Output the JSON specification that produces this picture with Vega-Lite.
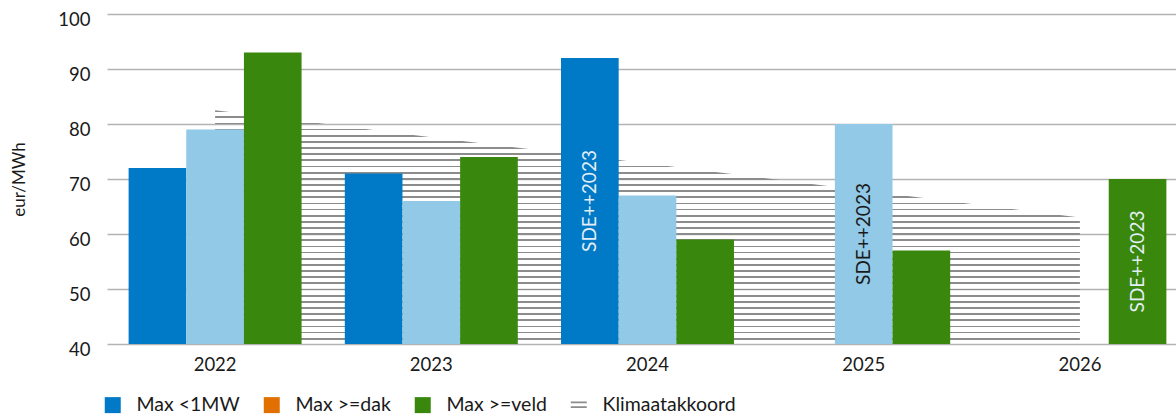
{
  "$schema": "https://vega.github.io/schema/vega-lite/v6.json",
  "width": 1069,
  "height": 330,
  "autosize": {"type": "none"},
  "padding": {"left": 107, "top": 14, "right": 0, "bottom": 70},
  "background": "white",
  "config": {"view": {"stroke": null}, "font": "Lato"},
  "datasets": {
    "bars": [
      {"year": "2022", "series": "Max <1MW", "value": 72, "note": null},
      {"year": "2022", "series": "Max >=dak", "value": 79, "note": null},
      {"year": "2022", "series": "Max >=veld", "value": 93, "note": null},
      {"year": "2023", "series": "Max <1MW", "value": 71, "note": null},
      {"year": "2023", "series": "Max >=dak", "value": 66, "note": null},
      {"year": "2023", "series": "Max >=veld", "value": 74, "note": null},
      {"year": "2024", "series": "Max <1MW", "value": 92, "note": "SDE++2023"},
      {"year": "2024", "series": "Max >=dak", "value": 67, "note": null},
      {"year": "2024", "series": "Max >=veld", "value": 59, "note": null},
      {"year": "2025", "series": "Max >=dak", "value": 80, "note": "SDE++2023"},
      {"year": "2025", "series": "Max >=veld", "value": 57, "note": null},
      {"year": "2026", "series": "Max >=veld", "value": 70, "note": "SDE++2023"}
    ],
    "klimaat": [
      {"year": "2022", "value": 82.5},
      {"year": "2023", "value": 77.6},
      {"year": "2024", "value": 72.8},
      {"year": "2025", "value": 67.9},
      {"year": "2026", "value": 63.0}
    ]
  },
  "encoding": {
    "x": {
      "field": "year",
      "type": "nominal",
      "scale": {"domain": ["2022", "2023", "2024", "2025", "2026"], "range": [0, 1081], "paddingInner": 0.2, "paddingOuter": 0.1},
      "axis": {"title": null, "domain": false, "ticks": false, "grid": false, "labelAngle": 0, "labelFontSize": 18.5, "labelColor": "#1a1a1a", "labelPadding": 11}
    }
  },
  "layer": [
    {
      "data": {"name": "klimaat"},
      "mark": {
        "type": "area",
        "fill": {
          "gradient": "linear", "x1": 0, "y1": 0, "x2": 0, "y2": 1,
          "stops": [
            {"offset": 0, "color": "#8c8c8c"}, {"offset": 0.0075, "color": "#8c8c8c"}, {"offset": 0.0075, "color": "rgba(255,255,255,0)"}, {"offset": 0.0263, "color": "rgba(255,255,255,0)"},
            {"offset": 0.0263, "color": "#8c8c8c"}, {"offset": 0.0338, "color": "#8c8c8c"}, {"offset": 0.0338, "color": "rgba(255,255,255,0)"}, {"offset": 0.0526, "color": "rgba(255,255,255,0)"},
            {"offset": 0.0526, "color": "#8c8c8c"}, {"offset": 0.0601, "color": "#8c8c8c"}, {"offset": 0.0601, "color": "rgba(255,255,255,0)"}, {"offset": 0.0789, "color": "rgba(255,255,255,0)"},
            {"offset": 0.0789, "color": "#8c8c8c"}, {"offset": 0.0864, "color": "#8c8c8c"}, {"offset": 0.0864, "color": "rgba(255,255,255,0)"}, {"offset": 0.1053, "color": "rgba(255,255,255,0)"},
            {"offset": 0.1053, "color": "#8c8c8c"}, {"offset": 0.1128, "color": "#8c8c8c"}, {"offset": 0.1128, "color": "rgba(255,255,255,0)"}, {"offset": 0.1316, "color": "rgba(255,255,255,0)"},
            {"offset": 0.1316, "color": "#8c8c8c"}, {"offset": 0.1391, "color": "#8c8c8c"}, {"offset": 0.1391, "color": "rgba(255,255,255,0)"}, {"offset": 0.1579, "color": "rgba(255,255,255,0)"},
            {"offset": 0.1579, "color": "#8c8c8c"}, {"offset": 0.1654, "color": "#8c8c8c"}, {"offset": 0.1654, "color": "rgba(255,255,255,0)"}, {"offset": 0.1842, "color": "rgba(255,255,255,0)"},
            {"offset": 0.1842, "color": "#8c8c8c"}, {"offset": 0.1917, "color": "#8c8c8c"}, {"offset": 0.1917, "color": "rgba(255,255,255,0)"}, {"offset": 0.2105, "color": "rgba(255,255,255,0)"},
            {"offset": 0.2105, "color": "#8c8c8c"}, {"offset": 0.2180, "color": "#8c8c8c"}, {"offset": 0.2180, "color": "rgba(255,255,255,0)"}, {"offset": 0.2368, "color": "rgba(255,255,255,0)"},
            {"offset": 0.2368, "color": "#8c8c8c"}, {"offset": 0.2443, "color": "#8c8c8c"}, {"offset": 0.2443, "color": "rgba(255,255,255,0)"}, {"offset": 0.2632, "color": "rgba(255,255,255,0)"},
            {"offset": 0.2632, "color": "#8c8c8c"}, {"offset": 0.2707, "color": "#8c8c8c"}, {"offset": 0.2707, "color": "rgba(255,255,255,0)"}, {"offset": 0.2895, "color": "rgba(255,255,255,0)"},
            {"offset": 0.2895, "color": "#8c8c8c"}, {"offset": 0.2970, "color": "#8c8c8c"}, {"offset": 0.2970, "color": "rgba(255,255,255,0)"}, {"offset": 0.3158, "color": "rgba(255,255,255,0)"},
            {"offset": 0.3158, "color": "#8c8c8c"}, {"offset": 0.3233, "color": "#8c8c8c"}, {"offset": 0.3233, "color": "rgba(255,255,255,0)"}, {"offset": 0.3421, "color": "rgba(255,255,255,0)"},
            {"offset": 0.3421, "color": "#8c8c8c"}, {"offset": 0.3496, "color": "#8c8c8c"}, {"offset": 0.3496, "color": "rgba(255,255,255,0)"}, {"offset": 0.3684, "color": "rgba(255,255,255,0)"},
            {"offset": 0.3684, "color": "#8c8c8c"}, {"offset": 0.3759, "color": "#8c8c8c"}, {"offset": 0.3759, "color": "rgba(255,255,255,0)"}, {"offset": 0.3947, "color": "rgba(255,255,255,0)"},
            {"offset": 0.3947, "color": "#8c8c8c"}, {"offset": 0.4022, "color": "#8c8c8c"}, {"offset": 0.4022, "color": "rgba(255,255,255,0)"}, {"offset": 0.4211, "color": "rgba(255,255,255,0)"},
            {"offset": 0.4211, "color": "#8c8c8c"}, {"offset": 0.4286, "color": "#8c8c8c"}, {"offset": 0.4286, "color": "rgba(255,255,255,0)"}, {"offset": 0.4474, "color": "rgba(255,255,255,0)"},
            {"offset": 0.4474, "color": "#8c8c8c"}, {"offset": 0.4549, "color": "#8c8c8c"}, {"offset": 0.4549, "color": "rgba(255,255,255,0)"}, {"offset": 0.4737, "color": "rgba(255,255,255,0)"},
            {"offset": 0.4737, "color": "#8c8c8c"}, {"offset": 0.4812, "color": "#8c8c8c"}, {"offset": 0.4812, "color": "rgba(255,255,255,0)"}, {"offset": 0.5000, "color": "rgba(255,255,255,0)"},
            {"offset": 0.5000, "color": "#8c8c8c"}, {"offset": 0.5075, "color": "#8c8c8c"}, {"offset": 0.5075, "color": "rgba(255,255,255,0)"}, {"offset": 0.5263, "color": "rgba(255,255,255,0)"},
            {"offset": 0.5263, "color": "#8c8c8c"}, {"offset": 0.5338, "color": "#8c8c8c"}, {"offset": 0.5338, "color": "rgba(255,255,255,0)"}, {"offset": 0.5526, "color": "rgba(255,255,255,0)"},
            {"offset": 0.5526, "color": "#8c8c8c"}, {"offset": 0.5601, "color": "#8c8c8c"}, {"offset": 0.5601, "color": "rgba(255,255,255,0)"}, {"offset": 0.5789, "color": "rgba(255,255,255,0)"},
            {"offset": 0.5789, "color": "#8c8c8c"}, {"offset": 0.5864, "color": "#8c8c8c"}, {"offset": 0.5864, "color": "rgba(255,255,255,0)"}, {"offset": 0.6053, "color": "rgba(255,255,255,0)"},
            {"offset": 0.6053, "color": "#8c8c8c"}, {"offset": 0.6128, "color": "#8c8c8c"}, {"offset": 0.6128, "color": "rgba(255,255,255,0)"}, {"offset": 0.6316, "color": "rgba(255,255,255,0)"},
            {"offset": 0.6316, "color": "#8c8c8c"}, {"offset": 0.6391, "color": "#8c8c8c"}, {"offset": 0.6391, "color": "rgba(255,255,255,0)"}, {"offset": 0.6579, "color": "rgba(255,255,255,0)"},
            {"offset": 0.6579, "color": "#8c8c8c"}, {"offset": 0.6654, "color": "#8c8c8c"}, {"offset": 0.6654, "color": "rgba(255,255,255,0)"}, {"offset": 0.6842, "color": "rgba(255,255,255,0)"},
            {"offset": 0.6842, "color": "#8c8c8c"}, {"offset": 0.6917, "color": "#8c8c8c"}, {"offset": 0.6917, "color": "rgba(255,255,255,0)"}, {"offset": 0.7105, "color": "rgba(255,255,255,0)"},
            {"offset": 0.7105, "color": "#8c8c8c"}, {"offset": 0.7180, "color": "#8c8c8c"}, {"offset": 0.7180, "color": "rgba(255,255,255,0)"}, {"offset": 0.7368, "color": "rgba(255,255,255,0)"},
            {"offset": 0.7368, "color": "#8c8c8c"}, {"offset": 0.7443, "color": "#8c8c8c"}, {"offset": 0.7443, "color": "rgba(255,255,255,0)"}, {"offset": 0.7632, "color": "rgba(255,255,255,0)"},
            {"offset": 0.7632, "color": "#8c8c8c"}, {"offset": 0.7707, "color": "#8c8c8c"}, {"offset": 0.7707, "color": "rgba(255,255,255,0)"}, {"offset": 0.7895, "color": "rgba(255,255,255,0)"},
            {"offset": 0.7895, "color": "#8c8c8c"}, {"offset": 0.7970, "color": "#8c8c8c"}, {"offset": 0.7970, "color": "rgba(255,255,255,0)"}, {"offset": 0.8158, "color": "rgba(255,255,255,0)"},
            {"offset": 0.8158, "color": "#8c8c8c"}, {"offset": 0.8233, "color": "#8c8c8c"}, {"offset": 0.8233, "color": "rgba(255,255,255,0)"}, {"offset": 0.8421, "color": "rgba(255,255,255,0)"},
            {"offset": 0.8421, "color": "#8c8c8c"}, {"offset": 0.8496, "color": "#8c8c8c"}, {"offset": 0.8496, "color": "rgba(255,255,255,0)"}, {"offset": 0.8684, "color": "rgba(255,255,255,0)"},
            {"offset": 0.8684, "color": "#8c8c8c"}, {"offset": 0.8759, "color": "#8c8c8c"}, {"offset": 0.8759, "color": "rgba(255,255,255,0)"}, {"offset": 0.8947, "color": "rgba(255,255,255,0)"},
            {"offset": 0.8947, "color": "#8c8c8c"}, {"offset": 0.9022, "color": "#8c8c8c"}, {"offset": 0.9022, "color": "rgba(255,255,255,0)"}, {"offset": 0.9211, "color": "rgba(255,255,255,0)"},
            {"offset": 0.9211, "color": "#8c8c8c"}, {"offset": 0.9286, "color": "#8c8c8c"}, {"offset": 0.9286, "color": "rgba(255,255,255,0)"}, {"offset": 0.9474, "color": "rgba(255,255,255,0)"},
            {"offset": 0.9474, "color": "#8c8c8c"}, {"offset": 0.9549, "color": "#8c8c8c"}, {"offset": 0.9549, "color": "rgba(255,255,255,0)"}, {"offset": 0.9737, "color": "rgba(255,255,255,0)"},
            {"offset": 0.9737, "color": "#8c8c8c"}, {"offset": 0.9812, "color": "#8c8c8c"}, {"offset": 0.9812, "color": "rgba(255,255,255,0)"}, {"offset": 1, "color": "rgba(255,255,255,0)"}
          ]
        }
      },
      "encoding": {
        "y": {"field": "value", "type": "quantitative", "scale": {"domain": [40, 100]}, "axis": null},
        "y2": {"datum": 40}
      }
    },
    {
      "data": {"name": "bars"},
      "mark": {"type": "bar"},
      "encoding": {
        "xOffset": {"field": "series", "type": "nominal", "scale": {"domain": ["Max <1MW", "Max >=dak", "Max >=veld"], "paddingInner": 0, "paddingOuter": 0}},
        "y": {
          "field": "value", "type": "quantitative", "scale": {"domain": [40, 100]},
          "axis": {"title": "eur/MWh", "values": [40, 50, 60, 70, 80, 90, 100], "grid": true, "gridColor": "#b3b3b3", "gridWidth": 1.5, "domain": false, "ticks": false, "labelPadding": 17, "labelFontSize": 18.5, "labelColor": "#1a1a1a", "labelOffset": 5, "titleFontSize": 17, "titleFontWeight": "normal", "titleColor": "#1a1a1a", "titlePadding": 29}
        },
        "y2": {"datum": 40},
        "fill": {
          "field": "series", "type": "nominal",
          "scale": {"domain": ["Max <1MW", "Max >=dak", "Max >=veld", "Klimaatakkoord"], "range": ["#0079c6", "#e17000", "#39870c", "#8c8c8c"]},
          "condition": {"test": "datum.series === 'Max >=dak'", "value": "#91c9e6"},
          "legend": {
            "orient": "none", "legendX": -4, "legendY": 381, "direction": "horizontal", "title": null,
            "symbolType": "square", "symbolSize": 256, "symbolStrokeWidth": 0, "labelFontSize": 19.5, "labelColor": "#1a1a1a",
            "labelOffset": 14, "columnPadding": 22,
            "encode": {"symbols": {"update": {"shape": {"signal": "datum.value === 'Klimaatakkoord' ? 'M-1,-0.45H1V-0.25H-1ZM-1,0.15H1V0.35H-1Z' : 'square'"}}}}
          }
        }
      }
    },
    {
      "data": {"name": "bars"},
      "transform": [{"filter": "datum.note != null"}],
      "mark": {"type": "text", "angle": 270, "align": "center", "baseline": "middle", "fontSize": 19},
      "encoding": {
        "xOffset": {"field": "series", "type": "nominal", "scale": {"domain": ["Max <1MW", "Max >=dak", "Max >=veld"], "paddingInner": 0, "paddingOuter": 0}},
        "y": {"field": "value", "type": "quantitative", "scale": {"domain": [40, 160]}, "axis": null},
        "text": {"field": "note"},
        "color": {"condition": {"test": "datum.series === 'Max >=dak'", "value": "#1a1a1a"}, "value": "#e3eef7"}
      }
    }
  ],
  "resolve": {"scale": {"y": "independent"}}
}
